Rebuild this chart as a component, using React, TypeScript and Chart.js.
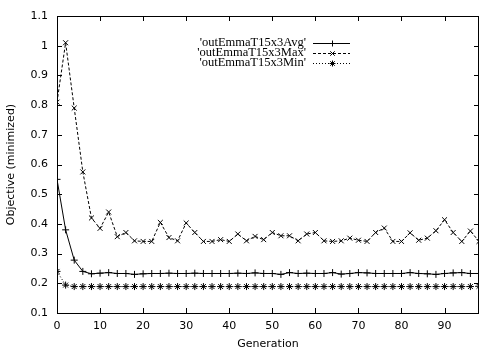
import React, { useEffect, useRef } from "react";
import { Chart, registerables } from "chart.js";

Chart.register(...registerables);

const generations = [
  0, 2, 4, 6, 8, 10, 12, 14, 16, 18, 20, 22, 24, 26, 28, 30, 32, 34, 36, 38,
  40, 42, 44, 46, 48, 50, 52, 54, 56, 58, 60, 62, 64, 66, 68, 70, 72, 74, 76, 78,
  80, 82, 84, 86, 88, 90, 92, 94, 96, 98,
];

const avgValues = [
  0.55, 0.38, 0.278, 0.24, 0.232, 0.234, 0.236, 0.233, 0.233, 0.23,
  0.232, 0.233, 0.233, 0.234, 0.233, 0.233, 0.234, 0.233, 0.233, 0.233,
  0.233, 0.234, 0.233, 0.235, 0.233, 0.233, 0.23, 0.236, 0.233, 0.234,
  0.233, 0.233, 0.236, 0.231, 0.233, 0.236, 0.235, 0.233, 0.233, 0.233,
  0.233, 0.236, 0.233, 0.232, 0.23, 0.233, 0.235, 0.236, 0.233, 0.233,
];

const maxValues = [
  0.81, 1.01, 0.79, 0.575, 0.42, 0.385, 0.44, 0.357, 0.371, 0.343,
  0.341, 0.341, 0.405, 0.354, 0.343, 0.403, 0.371, 0.341, 0.341, 0.347,
  0.341, 0.366, 0.343, 0.358, 0.347, 0.371, 0.36, 0.36, 0.343, 0.366,
  0.371, 0.343, 0.341, 0.343, 0.352, 0.345, 0.341, 0.371, 0.386, 0.341,
  0.341, 0.37, 0.345, 0.352, 0.377, 0.414, 0.371, 0.341, 0.376, 0.341,
];

const minValues = [
  0.24, 0.194, 0.189, 0.189, 0.189, 0.189, 0.189, 0.189, 0.189, 0.189,
  0.189, 0.189, 0.189, 0.189, 0.189, 0.189, 0.189, 0.189, 0.189, 0.189,
  0.189, 0.189, 0.189, 0.189, 0.189, 0.189, 0.189, 0.189, 0.189, 0.189,
  0.189, 0.189, 0.189, 0.189, 0.189, 0.189, 0.189, 0.189, 0.189, 0.189,
  0.189, 0.189, 0.189, 0.189, 0.189, 0.189, 0.189, 0.189, 0.189, 0.19,
];

const seriesNames = ["'outEmmaT15x3Avg'", "'outEmmaT15x3Max'", "'outEmmaT15x3Min'"];
const xTitle = "Generation";
const yTitle = "Objective (minimized)";

const TICK_FONT = "DejaVu Sans";
const LEGEND_FONT = "Liberation Serif";

function drawMarker(ctx: CanvasRenderingContext2D, style: string, x: number, y: number, r: number) {
  ctx.beginPath();
  if (style === "cross" || style === "star") {
    ctx.moveTo(x - r, y);
    ctx.lineTo(x + r, y);
    ctx.moveTo(x, y - r);
    ctx.lineTo(x, y + r);
  }
  if (style === "crossRot" || style === "star") {
    const d = r * 0.75;
    ctx.moveTo(x - d, y - d);
    ctx.lineTo(x + d, y + d);
    ctx.moveTo(x - d, y + d);
    ctx.lineTo(x + d, y - d);
  }
  ctx.stroke();
}

const framePlugin = {
  id: "gnuFrame",
  afterDraw(chart: any) {
    const { ctx, chartArea, scales } = chart;
    const { left, right, top, bottom } = chartArea;
    ctx.save();
    ctx.strokeStyle = "#000";
    ctx.lineWidth = 1;
    ctx.setLineDash([]);
    ctx.strokeRect(Math.round(left) + 0.5, Math.round(top) + 0.5, Math.round(right - left) - 1, Math.round(bottom - top));
    const tl = 5;
    ctx.beginPath();
    scales.x.ticks.forEach((t: any) => {
      const px = Math.round(scales.x.getPixelForValue(t.value)) + 0.5;
      ctx.moveTo(px, bottom);
      ctx.lineTo(px, bottom - tl);
      ctx.moveTo(px, top);
      ctx.lineTo(px, top + tl);
    });
    scales.y.ticks.forEach((t: any) => {
      const py = Math.round(scales.y.getPixelForValue(t.value)) + 0.5;
      ctx.moveTo(left, py);
      ctx.lineTo(left + tl, py);
      ctx.moveTo(right, py);
      ctx.lineTo(right - tl, py);
    });
    ctx.stroke();

    // legend (gnuplot style)
    const textRight = 306;
    const lineStart = 313;
    const lineEnd = 350;
    const rows = [43, 53, 63];
    ctx.font = `12.5px "${LEGEND_FONT}"`;
    ctx.fillStyle = "#000";
    ctx.textAlign = "right";
    ctx.textBaseline = "middle";
    chart.data.datasets.forEach((ds: any, i: number) => {
      const y = rows[i] + 0.5;
      ctx.fillText(ds.label, textRight, rows[i]);
      ctx.setLineDash(ds.borderDash || []);
      ctx.beginPath();
      ctx.moveTo(lineStart, y);
      ctx.lineTo(lineEnd, y);
      ctx.stroke();
      ctx.setLineDash([]);
      drawMarker(ctx, ds.pointStyle, Math.round((lineStart + lineEnd) / 2) + 0.5, y, 3);
    });
    ctx.restore();
  },
};

export default function App() {
  const ref = useRef<HTMLCanvasElement | null>(null);

  useEffect(() => {
    document.body.style.margin = "0";
    const canvas = ref.current;
    if (!canvas) return;
    const mk = (vals: number[]) => generations.map((g, i) => ({ x: g, y: vals[i] }));
    const chart = new Chart(canvas, {
      type: "line",
      data: {
        datasets: [
          {
            label: seriesNames[0],
            data: mk(avgValues),
            borderColor: "#000",
            borderWidth: 1,
            pointStyle: "cross",
            pointRadius: 3.5,
            pointBorderColor: "#000",
            pointBorderWidth: 1,
            tension: 0,
          },
          {
            label: seriesNames[1],
            data: mk(maxValues),
            borderColor: "#000",
            borderWidth: 1,
            borderDash: [3, 2],
            pointStyle: "crossRot",
            pointRadius: 3.5,
            pointBorderColor: "#000",
            pointBorderWidth: 1,
            tension: 0,
          },
          {
            label: seriesNames[2],
            data: mk(minValues),
            borderColor: "#000",
            borderWidth: 1,
            borderDash: [1, 2],
            pointStyle: "star",
            pointRadius: 3.5,
            pointBorderColor: "#000",
            pointBorderWidth: 1,
            tension: 0,
          },
        ],
      } as any,
      options: {
        responsive: false,
        animation: false,
        layout: { padding: { top: 16, right: 22, left: 0, bottom: 0 } },
        plugins: {
          legend: { display: false },
          tooltip: { enabled: false },
        },
        scales: {
          x: {
            type: "linear",
            min: 0,
            max: 98,
            grid: { display: false, drawTicks: false, tickLength: 0 },
            border: { display: false },
            ticks: {
              stepSize: 10,
              includeBounds: false,
              maxRotation: 0,
              padding: 7,
              color: "#000",
              font: { family: TICK_FONT, size: 11 },
            },
            title: {
              display: true,
              text: xTitle,
              color: "#000",
              font: { family: TICK_FONT, size: 11 },
              padding: { top: 0, bottom: 0 },
            },
            afterFit: (s: any) => {
              s.height = 38;
            },
          },
          y: {
            type: "linear",
            min: 0.1,
            max: 1.1,
            grid: { display: false, drawTicks: false, tickLength: 0 },
            border: { display: false },
            ticks: {
              stepSize: 0.1,
              padding: 9,
              color: "#000",
              font: { family: TICK_FONT, size: 11 },
              callback: (v: any) => String(Number(Number(v).toFixed(1))),
            },
            title: {
              display: true,
              text: yTitle,
              color: "#000",
              font: { family: TICK_FONT, size: 11 },
              padding: { top: 5, bottom: 0 },
            },
            afterFit: (s: any) => {
              s.width = 57;
            },
          },
        },
      } as any,
      plugins: [framePlugin],
    });
    return () => chart.destroy();
  }, []);

  return <canvas ref={ref} width={501} height={351} style={{ display: "block" }} />;
}
